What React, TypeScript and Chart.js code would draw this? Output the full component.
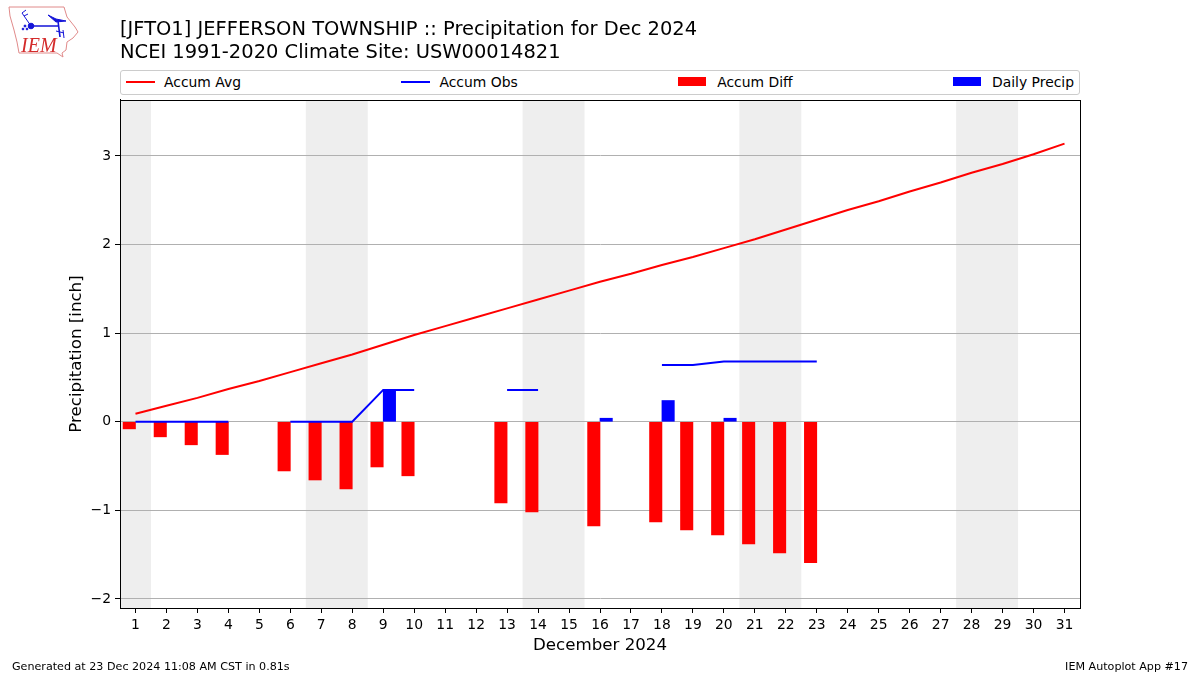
import React, { useEffect, useRef } from "react";
import { Chart, registerables } from "chart.js";

Chart.register(...registerables);

const days = [1,2,3,4,5,6,7,8,9,10,11,12,13,14,15,16,17,18,19,20,21,22,23,24,25,26,27,28,29,30,31];
const accumAvg = [0.09,0.18,0.27,0.37,0.46,0.56,0.66,0.76,0.87,0.98,1.08,1.18,1.28,1.38,1.48,1.58,1.67,1.77,1.86,1.96,2.06,2.17,2.28,2.39,2.49,2.60,2.70,2.81,2.91,3.02,3.14];
const accumObs = [0,0,0,0,null,0,0,0,0.36,0.36,null,null,0.36,0.36,null,null,null,0.64,0.64,0.68,0.68,0.68,0.68,null,null,null,null,null,null,null,null];
const accumDiff = [-0.08,-0.17,-0.26,-0.37,null,-0.555,-0.657,-0.758,-0.51,-0.61,null,null,-0.916,-1.018,null,-1.176,null,-1.13,-1.22,-1.278,-1.38,-1.48,-1.59,null,null,null,null,null,null,null,null];
const dailyPrecip = [null,null,null,null,null,null,null,null,0.36,null,null,null,null,null,null,0.04,null,0.24,null,0.04,null,null,null,null,null,null,null,null,null,null,null];
const yTicks = [-2,-1,0,1,2,3];
const weekendBands: [number, number][] = [[0.5,1.5],[6.5,8.5],[13.5,15.5],[20.5,22.5],[27.5,29.5]];
const titleLines = ["[JFTO1] JEFFERSON TOWNSHIP :: Precipitation for Dec 2024", "NCEI 1991-2020 Climate Site: USW00014821"];
const legendItems = [
  { label: "Accum Avg", color: "#ff0000", kind: "line" },
  { label: "Accum Obs", color: "#0000ff", kind: "line" },
  { label: "Accum Diff", color: "#ff0000", kind: "bar" },
  { label: "Daily Precip", color: "#0000ff", kind: "bar" },
];
const footerLeft = "Generated at 23 Dec 2024 11:08 AM CST in 0.81s";
const footerRight = "IEM Autoplot App #17";

const FONT = "'DejaVu Sans'";

const backdrop = {
  id: "backdrop",
  beforeDraw(chart: any) {
    const { ctx, chartArea: a, scales } = chart;
    ctx.save();
    ctx.fillStyle = "#eeeeee";
    for (const [s, e] of weekendBands) {
      const x0 = scales.x.getPixelForValue(s);
      const x1 = scales.x.getPixelForValue(e);
      ctx.fillRect(x0, a.top, x1 - x0, a.bottom - a.top);
    }
    ctx.restore();
  },
  afterDraw(chart: any) {
    const { ctx, chartArea: a } = chart;
    ctx.save();
    ctx.strokeStyle = "#000";
    ctx.lineWidth = 1;
    ctx.strokeRect(Math.round(a.left) + 0.5, Math.round(a.top) + 0.5, Math.round(a.right - a.left), Math.round(a.bottom - a.top));
    ctx.restore();
  },
};

function Logo() {
  return (
    <svg width="80" height="60" style={{ position: "absolute", left: 0, top: 0 }}>
      <path d="M9 7 L64 7 L67 17 L75 27 L78 32 L73 38 L67 42 L66 50 L62 53 L63 57 L57 53 L19 53 L17 42 L14 30 L10 16 Z" fill="#fff" stroke="#e08a8a" strokeWidth="1" />
      <g stroke="#1414d8" fill="#1414d8">
        <path d="M31 26 L58 26 M58 21 L60 37" strokeWidth="1.6" fill="none" />
        <circle cx="31" cy="26" r="2.8" />
        <path d="M48 15 L56 19 L66 21 L56 22 Z" />
        <path d="M31 26 L22 13 M22 13 L26 10 M24 16 L28 14" strokeWidth="1" fill="none" />
        <path d="M56 31 L64 33 M63 30 L64 38" strokeWidth="1" fill="none" />
        <circle cx="25" cy="26" r="1" /><circle cx="27" cy="29" r="0.9" /><circle cx="23" cy="29" r="0.9" />
      </g>
      <text x="21" y="52" fontFamily="'Liberation Serif'" fontStyle="italic" fontSize="20" fill="#d42b2b">IEM</text>
    </svg>
  );
}

export default function App() {
  const ref = useRef<HTMLCanvasElement>(null);
  useEffect(() => {
    document.body.style.margin = "0";
    const chart = new Chart(ref.current!, {
      type: "bar",
      data: {
        datasets: [
          {
            type: "line", label: "Accum Avg", order: 1,
            data: days.map((d, i) => ({ x: d, y: accumAvg[i] })),
            borderColor: "#ff0000", backgroundColor: "#ff0000", borderWidth: 2, pointRadius: 0, tension: 0,
          },
          {
            type: "line", label: "Accum Obs", order: 2,
            data: days.map((d, i) => ({ x: d, y: accumObs[i] })),
            borderColor: "#0000ff", backgroundColor: "#0000ff", borderWidth: 2, pointRadius: 0, tension: 0, spanGaps: false,
          },
          {
            type: "bar", label: "Accum Diff", order: 3, grouped: false,
            data: days.map((d, i) => ({ x: d - 0.2, y: accumDiff[i] })),
            backgroundColor: "#ff0000", barThickness: 12.4,
          },
          {
            type: "bar", label: "Daily Precip", order: 4, grouped: false,
            data: days.map((d, i) => ({ x: d + 0.2, y: dailyPrecip[i] })),
            backgroundColor: "#0000ff", barThickness: 12.4,
          },
        ] as any,
      },
      options: {
        responsive: false,
        animation: false,
        layout: { padding: { top: 0, left: 0, right: 120, bottom: 0 } },
        plugins: {
          legend: { display: false },
          tooltip: { enabled: false },
          title: {
            display: true, text: titleLines, align: "start", fullSize: false, color: "#000",
            font: { family: FONT, size: 19.47, weight: "normal", lineHeight: 1.17 },
            padding: { top: 19, bottom: 35.44 },
          },
        },
        scales: {
          x: {
            type: "linear", min: 0.5, max: 31.5, position: "bottom", offset: false,
            afterBuildTicks: (s: any) => { s.ticks = days.map((value) => ({ value })); },
            afterFit: (s: any) => { s.height = 67; },
            grid: { offset: false, drawOnChartArea: false, tickColor: "#000", tickLength: 5, tickWidth: 1 },
            border: { color: "#000", width: 1 },
            ticks: { autoSkip: false, maxRotation: 0, minRotation: 0, color: "#000", padding: 4, font: { family: FONT, size: 13.9 }, callback: (v: any) => String(v) },
            title: { display: true, text: "December 2024", color: "#000", font: { family: FONT, size: 16.67 }, padding: { top: 0, bottom: 19 } },
          },
          y: {
            type: "linear", min: -2.102, max: 3.632, position: "left",
            afterBuildTicks: (s: any) => { s.ticks = yTicks.map((value) => ({ value })); },
            afterFit: (s: any) => { s.width = 120; },
            grid: { color: "#b0b0b0", lineWidth: 1, tickColor: "#000", tickLength: 5 },
            border: { color: "#000", width: 1 },
            ticks: { color: "#000", padding: 4, font: { family: FONT, size: 13.9 }, callback: (v: any) => (v < 0 ? "\u2212" + Math.abs(v) : String(v)) },
            title: { display: true, text: "Precipitation [inch]", color: "#000", font: { family: FONT, size: 16.67 }, padding: { top: 67, bottom: 0 } },
          },
        },
      },
      plugins: [backdrop],
    } as any);
    return () => chart.destroy();
  }, []);

  return (
    <div style={{ position: "relative", width: 1200, height: 675, overflow: "hidden", fontFamily: FONT, background: "#fff" }}>
      <canvas ref={ref} width={1200} height={675} style={{ display: "block" }} />
      <Logo />
      <div style={{ position: "absolute", left: 120, top: 70, width: 960, height: 25, boxSizing: "border-box", border: "1px solid #cccccc", borderRadius: 3, padding: "0 5px 2px", display: "flex", justifyContent: "space-between", alignItems: "center", fontSize: 13.9, color: "#000", background: "#fff" }}>
        {legendItems.map((it) => (
          <div key={it.label} style={{ display: "flex", alignItems: "center", whiteSpace: "nowrap" }}>
            <span style={{ display: "inline-block", width: it.kind === "line" ? 29 : 28, height: it.kind === "line" ? 2 : 9, background: it.color, marginRight: it.kind === "line" ? 9 : 11 }} />
            <span>{it.label}</span>
          </div>
        ))}
      </div>
      <div style={{ position: "absolute", left: 12, top: 660, fontSize: 11.13, whiteSpace: "nowrap", color: "#000" }}>{footerLeft}</div>
      <div style={{ position: "absolute", right: 12, top: 660, fontSize: 11.13, whiteSpace: "nowrap", color: "#000" }}>{footerRight}</div>
    </div>
  );
}
